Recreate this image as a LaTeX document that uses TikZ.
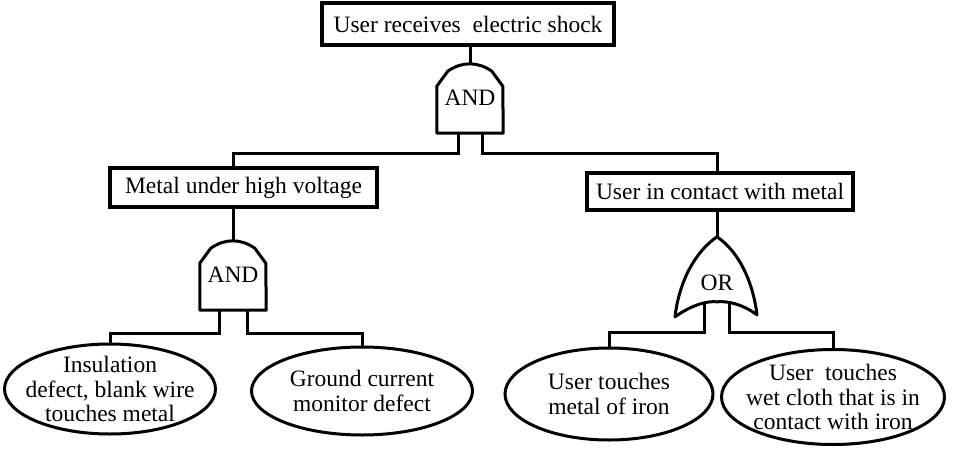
\documentclass[tikz,border=0pt]{standalone}
\usepackage{fontspec}
\setmainfont{Liberation Serif}
\usetikzlibrary{shapes.geometric, calc}

\begin{document}
\begin{tikzpicture}[
    x=1pt, y=-1pt,
    every node/.style={font=\fontsize{23.5}{24.5}\selectfont, align=center},
    evt/.style={draw, line width=3.2pt, minimum height=39pt, inner sep=0pt},
    basic/.style={draw, ellipse, line width=3pt, inner xsep=-20pt, inner ysep=-6pt},
    gatelbl/.style={minimum width=66pt, minimum height=70pt, inner sep=0pt},
    gateline/.style={line width=3pt, line join=round},
    wire/.style={line width=3pt}
  ]
  \useasboundingbox (0,0) rectangle (953,453);
  \node[evt, minimum width=292pt, minimum height=42pt] (top) at (468,24) {User receives\ \ electric shock};
  \node[gatelbl] (g0) at (470,98) {AND};
  \node[evt, minimum width=267pt] (m1) at (243.5,187.5) {Metal under high voltage};
  \node[evt, minimum width=266pt, minimum height=37pt] (m2) at (720,191.5) {User in contact with metal};
  \node[gatelbl] (g1) at (233,275) {AND};
  \node[gatelbl, minimum width=82pt, minimum height=80pt] (g2) at (717,277) {\raisebox{-13pt}[0pt][0pt]{OR}};
  \node[basic, minimum width=211pt, minimum height=90pt] (e1) at (110,389) {Insulation\\defect, blank wire\\touches metal};
  \node[basic, minimum width=221pt, minimum height=88pt] (e2) at (362,391) {Ground current\\monitor defect};
  \node[basic, minimum width=208pt, minimum height=92pt] (e3) at (609,394) {User touches\\metal of iron};
  \node[basic, minimum width=223pt, minimum height=95pt] (e4) at (833,397) {User\ \ touches\\wet cloth that is in\\contact with iron};

  \draw[gateline] (g0.south west) -- ++(0,-47) -- ++(11,-15) to[bend left=35] ++(44,0) -- ++(11,15) -- (g0.south east) -- cycle;
  \draw[gateline] (g1.south west) -- ++(0,-47) -- ++(11,-15) to[bend left=35] ++(44,0) -- ++(11,15) -- (g1.south east) -- cycle;
  \draw[gateline, shift={(g2.north)}] (0,0) .. controls (-22,15) and (-38,45) .. (-42,80)
    .. controls (-25,68) and (-10,64) .. (0,65) .. controls (10,64) and (25,67) .. (40,78)
    .. controls (36,45) and (22,15) .. (0,0) -- cycle;

  \draw[wire] (g0.north) -- (g0.north |- top.south);
  \draw[wire] ([xshift=-12pt]g0.south) -- ++(0,20) -| (g1 |- m1.north);
  \draw[wire] ([xshift=12pt]g0.south) -- ++(0,20) -| (g2 |- m2.north);
  \draw[wire] (g1.north) -- (g1 |- m1.south);
  \draw[wire] (g2.north) -- (g2 |- m2.south);
  \draw[wire] ([xshift=-14pt]g1.south) -- ++(0,23) -| (e1.north);
  \draw[wire] ([xshift=14pt]g1.south) -- ++(0,23) -| (e2.north);
  \draw[wire] ([shift={(-13pt,14pt)}]g2.south) -- ++(0,29) -| (e3.north);
  \draw[wire] ([shift={(12pt,14pt)}]g2.south) -- ++(0,29) -| (e4.north);
\end{tikzpicture}
\end{document}
